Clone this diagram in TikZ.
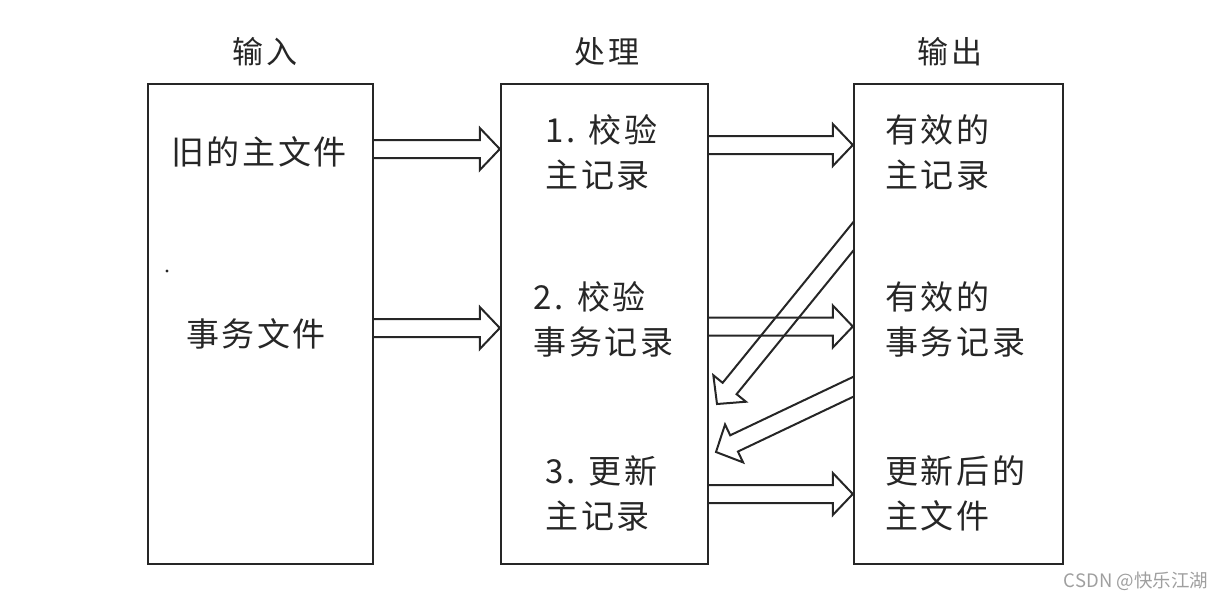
\documentclass[tikz,border=0pt]{standalone}
\usepackage{fontspec}
\newfontfamily\cjk[LetterSpace=8]{Noto Sans CJK SC}
\newfontfamily\cjkw{Noto Sans CJK SC}
\usetikzlibrary{calc}
\definecolor{ink}{gray}{0.15}
\tikzset{
  box/.style={draw=ink, line width=2.4pt, inner sep=0pt},
  arr/.style={draw=ink, line width=2pt, line join=miter},
  lbl/.style={font=\cjk\fontsize{33}{45}\selectfont, text=ink, inner sep=0pt, align=left},
  ttl/.style={font=\cjk\fontsize{31}{36}\selectfont, text=ink, inner sep=0pt},
  wmark/.style={font=\cjkw\fontsize{18.5}{20}\selectfont, text=gray!75, inner sep=0pt}
}
% block arrow from tail #2 to tip #3
\newcommand\blockarrow[3][]{%
  \coordinate (ba-c) at ($(#3)!20pt!(#2)$);
  \draw[arr,#1] ($(#2)!9pt!90:(#3)$) -- ($(ba-c)!9pt!90:(#3)$) -- ($(ba-c)!21pt!90:(#3)$)
     -- (#3) -- ($(ba-c)!21pt!-90:(#3)$) -- ($(ba-c)!9pt!-90:(#3)$) -- ($(#2)!9pt!-90:(#3)$);
}
\begin{document}
\begin{tikzpicture}[x=1pt,y=-1pt]
\useasboundingbox (0,0) rectangle (1225,600);
% boxes
\node[box, minimum width=225pt, minimum height=480pt] (in) at (260.5,324) {};
\node[box, minimum width=207pt, minimum height=480pt] (proc) at (604.5,324) {};
\node[box, minimum width=209pt, minimum height=480pt] (out) at (958.5,324) {};
% titles
\node[ttl] (tin) at (265,52) {输入};
\node[ttl] (tproc) at (607,52) {处理};
\node[ttl] (tout) at (950,52) {输出};
% labels
\node[lbl] (old) at (259,152) {旧的主文件};
\node[lbl] (trans) at (256,334) {事务文件};
\node[lbl] (p1) at (601.5,152.5) {1. 校验\\主记录};
\node[lbl] (p2) at (603.5,319.5) {2. 校验\\事务记录};
\node[lbl] (p3) at (601.5,493.5) {3. 更新\\主记录};
\node[lbl, anchor=west] (o1) at (885,152.5) {有效的\\主记录};
\node[lbl, anchor=west] (o2) at (885,319.5) {有效的\\事务记录};
\node[lbl, anchor=west] (o3) at (885,493.5) {更新后的\\主文件};
\node[wmark] (wm) at (1136,581) {CSDN @快乐江湖};
\fill[ink] (167,271) circle (1.6pt);
% arrow end points
\coordinate (a1t) at (in.east |- 0,149);
\coordinate (a1h) at (proc.west |- 0,149);
\coordinate (a2t) at (in.east |- 0,328);
\coordinate (a2h) at (proc.west |- 0,328);
\coordinate (a3t) at (proc.east |- 0,145);
\coordinate (a3h) at (out.west |- 0,145);
\coordinate (a4t) at (proc.east |- 0,326.5);
\coordinate (a4h) at (out.west |- 0,326.5);
\coordinate (a5t) at (proc.east |- 0,494);
\coordinate (a5h) at (out.west |- 0,494);
\coordinate (d1t) at (out.west |- 0,237);
\coordinate (d1h) at (717,404);
\coordinate (d2t) at (out.west |- 0,387);
\coordinate (d2h) at (716,452);
\coordinate (d1x) at ($(d1h)!1.25!(d1t)$);
\coordinate (d2x) at ($(d2h)!1.25!(d2t)$);
% arrows
\blockarrow{a1t}{a1h}
\blockarrow{a2t}{a2h}
\blockarrow{a3t}{a3h}
\blockarrow{a4t}{a4h}
\blockarrow{a5t}{a5h}
\begin{scope}
  \clip (0,0) rectangle (out.south west);
  \blockarrow{d1x}{d1h}
  \blockarrow{d2x}{d2h}
\end{scope}
\end{tikzpicture}
\end{document}
